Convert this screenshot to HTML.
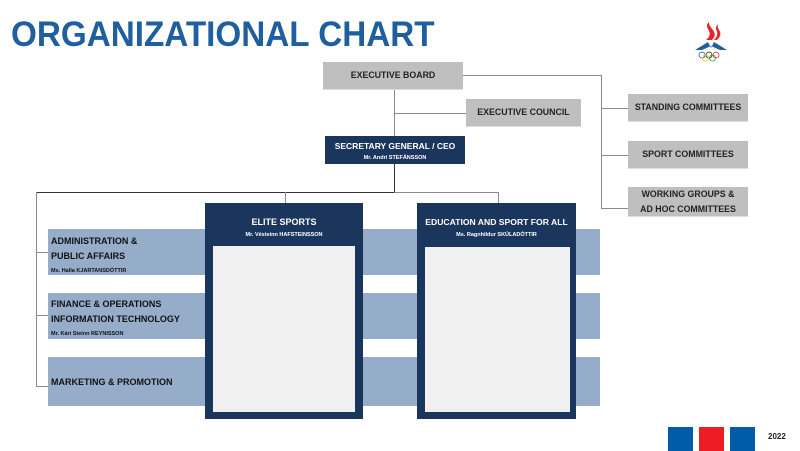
<!DOCTYPE html>
<html><head><meta charset="utf-8"><style>
*{margin:0;padding:0;box-sizing:border-box}
body{width:800px;height:451px;background:#fff;position:relative;overflow:hidden;font-family:"Liberation Sans",Arial,sans-serif}
.a{position:absolute}
.g{background:#bfbfbf;color:#222;font-weight:bold;font-size:8.8px;display:flex;align-items:center;justify-content:center;text-align:center;line-height:15px;border-bottom:1px solid #ddd}
.n{background:#1b365d;color:#fff;font-weight:bold;text-align:center}
.b{background:#95adc8}
.l{background:#8a8a8a}
.t{color:#111;font-weight:bold;font-size:9px;line-height:15px}
.s{font-size:5.5px;font-weight:bold}
</style></head><body>
<div class="a" style="left:11px;top:15px;font-size:35px;font-weight:bold;color:#1f5f9f;transform:scaleX(0.95);transform-origin:0 0">ORGANIZATIONAL CHART</div>
<svg class="a" style="left:692px;top:18px" width="38" height="44" viewBox="0 0 38 44">
<path d="M17 4 C10 10 24 14 14 22 L20 22 C28 14 16 10 17 4Z" fill="#e3262b"/>
<path d="M26 6 C20 12 30 14 22 22 L25 22 C33 14 24 12 26 6Z" fill="#e3262b"/>
<path d="M3 32 L16 24 L19 30 L22 24 L35 32 L28 32 L19 28 L10 32Z" fill="#1f5f9f"/>
<circle cx="10" cy="37" r="3" fill="none" stroke="#1f5fa0" stroke-width="0.8"/><circle cx="17" cy="37" r="3" fill="none" stroke="#222" stroke-width="0.8"/><circle cx="24" cy="37" r="3" fill="none" stroke="#e3262b" stroke-width="0.8"/><circle cx="13.5" cy="40" r="3" fill="none" stroke="#f0c000" stroke-width="0.8"/><circle cx="20.5" cy="40" r="3" fill="none" stroke="#2a9a3a" stroke-width="0.8"/>
</svg>
<div class="a l" style="left:463px;top:75px;width:139px;height:1px"></div>
<div class="a l" style="left:601px;top:75px;width:1px;height:134px"></div>
<div class="a l" style="left:601px;top:108px;width:27px;height:1px"></div>
<div class="a l" style="left:601px;top:155px;width:27px;height:1px"></div>
<div class="a l" style="left:601px;top:208px;width:27px;height:1px"></div>
<div class="a l" style="left:394px;top:90px;width:1px;height:47px"></div>
<div class="a l" style="left:394px;top:113px;width:72px;height:1px"></div>
<div class="a" style="left:394px;top:164px;width:1px;height:29px;background:#333"></div>
<div class="a" style="left:36px;top:192px;width:359px;height:1px;background:#333"></div>
<div class="a l" style="left:394px;top:192px;width:104px;height:1px"></div>
<div class="a l" style="left:285px;top:192px;width:1px;height:11px"></div>
<div class="a l" style="left:498px;top:192px;width:1px;height:11px"></div>
<div class="a l" style="left:36px;top:192px;width:1px;height:195px"></div>
<div class="a l" style="left:36px;top:252px;width:12px;height:1px"></div>
<div class="a l" style="left:36px;top:315px;width:12px;height:1px"></div>
<div class="a l" style="left:36px;top:386px;width:12px;height:1px"></div>
<div class="a g" style="left:323px;top:62px;width:140px;height:28px">EXECUTIVE BOARD</div>
<div class="a g" style="left:466px;top:99px;width:115px;height:28px">EXECUTIVE COUNCIL</div>
<div class="a g" style="left:628px;top:94px;width:120px;height:28px">STANDING COMMITTEES</div>
<div class="a g" style="left:628px;top:141px;width:120px;height:28px">SPORT COMMITTEES</div>
<div class="a g" style="left:628px;top:187px;width:120px;height:30px">WORKING GROUPS &amp;<br>AD HOC COMMITTEES</div>
<div class="a n" style="left:325px;top:136px;width:140px;height:28px;padding-top:4px;font-size:8.5px;line-height:12px">SECRETARY GENERAL / CEO<div class="s">Mr. Andri STEFÁNSSON</div></div>
<div class="a b" style="left:48px;top:229px;width:552px;height:46px"></div>
<div class="a b" style="left:48px;top:293px;width:552px;height:46px"></div>
<div class="a b" style="left:48px;top:357px;width:552px;height:49px"></div>
<div class="a t" style="left:51px;top:234px">ADMINISTRATION &amp;<br>PUBLIC AFFAIRS<div class="s">Ms. Halla KJARTANSDÓTTIR</div></div>
<div class="a t" style="left:51px;top:297px">FINANCE &amp; OPERATIONS<br>INFORMATION TECHNOLOGY<div class="s">Mr. Kári Steinn REYNISSON</div></div>
<div class="a t" style="left:51px;top:375px">MARKETING &amp; PROMOTION</div>
<div class="a n" style="left:205px;top:203px;width:158px;height:216px;padding-top:13px;font-size:9px;line-height:13px">ELITE SPORTS<div class="s">Mr. Vésteinn HAFSTEINSSON</div>
<div class="a" style="left:8px;top:43px;width:142px;height:166px;background:#f0f0f0"></div></div>
<div class="a n" style="left:417px;top:203px;width:159px;height:216px;padding-top:13px;font-size:8.6px;line-height:13px">EDUCATION AND SPORT FOR ALL<div class="s">Ms. Ragnhildur SKÚLADÓTTIR</div>
<div class="a" style="left:8px;top:44px;width:145px;height:165px;background:#f0f0f0"></div></div>
<div class="a" style="left:668px;top:427px;width:25px;height:24px;background:#005ca8"></div>
<div class="a" style="left:699px;top:427px;width:25px;height:24px;background:#ee1c25"></div>
<div class="a" style="left:730px;top:427px;width:25px;height:24px;background:#005ca8"></div>
<div class="a" style="left:768px;top:432px;font-size:8px;font-weight:bold;color:#222">2022</div>
</body></html>
